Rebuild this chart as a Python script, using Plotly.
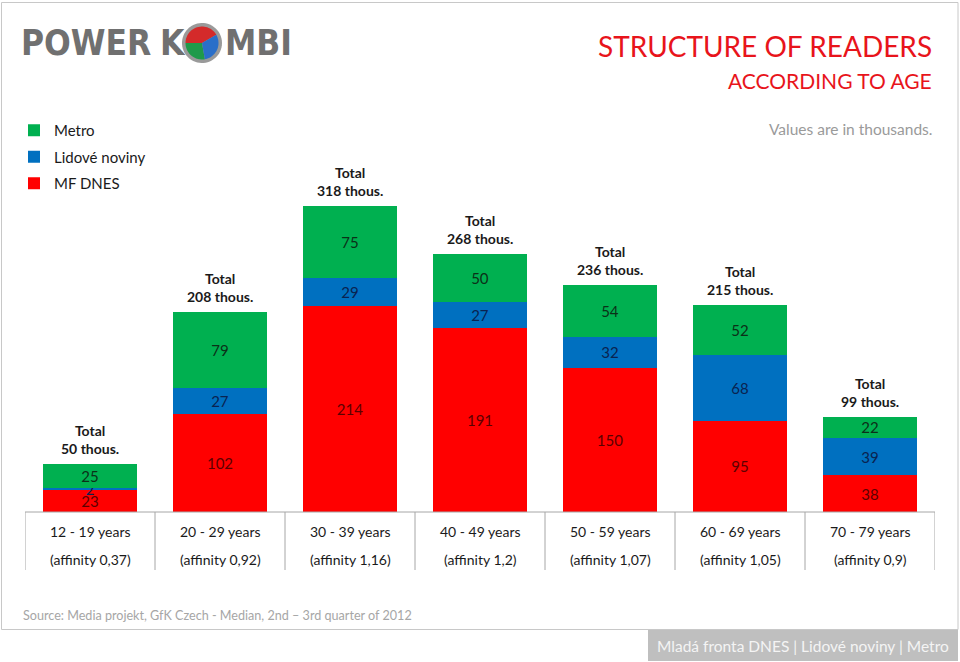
import numpy as np
import plotly.graph_objects as go

categories = ["12 - 19 years", "20 - 29 years", "30 - 39 years", "40 - 49 years",
              "50 - 59 years", "60 - 69 years", "70 - 79 years"]
affinity = ["(affinity 0,37)", "(affinity 0,92)", "(affinity 1,16)", "(affinity 1,2)",
            "(affinity 1,07)", "(affinity 1,05)", "(affinity 0,9)"]
mf_dnes = [23, 102, 214, 191, 150, 95, 38]
lidove = [2, 27, 29, 27, 32, 68, 39]
metro = [25, 79, 75, 50, 54, 52, 22]
totals = [50, 208, 318, 268, 236, 215, 99]

FONT = "Lato, 'Open Sans', Arial, sans-serif"
LOGO_FONT = "'DejaVu Sans Condensed', 'DejaVu Sans', sans-serif"
W, H = 960, 662
ML, MR, MT, MB = 25, 25, 100, 150
PW, PH = W - ML - MR, H - MT - MB
SCALE = 0.962  # px per thousand
YMAX = PH / SCALE


def px(X):
    return (X - ML) / PW


def py(Y):
    return (H - MB - Y) / PH


x = list(range(len(categories)))
fig = go.Figure()
series = [("MF DNES", mf_dnes, "#FF0000", "#5c0000", 3),
          ("Lidové noviny", lidove, "#0070C0", "#0a2350", 2),
          ("Metro", metro, "#00B050", "#0b3018", 1)]
for name, vals, col, tcol, rank in series:
    fig.add_trace(go.Bar(
        x=x, y=vals, name=name, marker=dict(color=col, line=dict(width=0)),
        text=[str(v) for v in vals], textposition="inside", insidetextanchor="middle",
        textangle=0, constraintext="none",
        textfont=dict(family=FONT, size=15, color=tcol), legendgroup=name,
        legendrank=rank, hoverinfo="skip"))

annotations = []
for i, t in enumerate(totals):
    annotations.append(dict(x=i, y=t, xref="x", yref="y", text=f"<b>Total<br>{t} thous.</b>",
                            showarrow=False, yanchor="bottom", yshift=5,
                            font=dict(family=FONT, size=14, color="#1a1a1a")))
    annotations.append(dict(x=i, y=py(531), xref="x", yref="paper", text=categories[i],
                            showarrow=False, yanchor="middle",
                            font=dict(family=FONT, size=14, color="#1a1a1a")))
    annotations.append(dict(x=i, y=py(559), xref="x", yref="paper", text=affinity[i],
                            showarrow=False, yanchor="middle",
                            font=dict(family=FONT, size=14, color="#1a1a1a")))

# titles and notes
annotations += [
    dict(x=px(934), y=py(46), xref="paper", yref="paper", xanchor="right", yanchor="middle",
         text="STRUCTURE OF READERS", showarrow=False,
         font=dict(family=FONT, size=28, color="#E8141B")),
    dict(x=px(934), y=py(80), xref="paper", yref="paper", xanchor="right", yanchor="middle",
         text="ACCORDING TO AGE", showarrow=False,
         font=dict(family=FONT, size=21, color="#E8141B")),
    dict(x=px(935), y=py(129), xref="paper", yref="paper", xanchor="right", yanchor="middle",
         text="Values are in thousands.", showarrow=False,
         font=dict(family=FONT, size=15.5, color="#9a9a9a")),
    dict(x=px(21), y=py(615), xref="paper", yref="paper", xanchor="left", yanchor="middle",
         text="Source: Media projekt, GfK Czech - Median, 2nd – 3rd quarter of 2012", showarrow=False,
         font=dict(family=FONT, size=12.6, color="#a6a6a6")),
    dict(x=px(803), y=py(645.5), xref="paper", yref="paper", xanchor="center", yanchor="middle",
         text="Mladá fronta DNES | Lidové noviny | Metro", showarrow=False,
         font=dict(family=FONT, size=15.5, color="#f4f4f4")),
    dict(x=px(19), y=py(43), xref="paper", yref="paper", xanchor="left", yanchor="middle",
         text="<b>POWER</b>", showarrow=False,
         font=dict(family=LOGO_FONT, size=35, color="#707070")),
    dict(x=px(158), y=py(43), xref="paper", yref="paper", xanchor="left", yanchor="middle",
         text="<b>K</b>", showarrow=False,
         font=dict(family=LOGO_FONT, size=35, color="#707070")),
    dict(x=px(223), y=py(43), xref="paper", yref="paper", xanchor="left", yanchor="middle",
         text="<b>MBI</b>", showarrow=False,
         font=dict(family=LOGO_FONT, size=35, color="#707070")),
]

shapes = []
# category table lines
line_col = "#a6a6a6"
shapes.append(dict(type="line", xref="x", yref="paper", x0=-0.5, x1=len(categories) - 0.5,
                   y0=0, y1=0, line=dict(color=line_col, width=1)))
for b in range(len(categories) + 1):
    shapes.append(dict(type="line", xref="x", yref="paper", x0=b - 0.5, x1=b - 0.5,
                       y0=py(512), y1=py(570), line=dict(color=line_col, width=1)))
# outer frame
shapes.append(dict(type="rect", xref="paper", yref="paper", x0=px(1.5), x1=px(958),
                   y0=py(629.5), y1=py(2.5), line=dict(color="#c8c8c8", width=1), layer="below"))
# footer box
shapes.append(dict(type="rect", xref="paper", yref="paper", x0=px(648), x1=px(958),
                   y0=py(661), y1=py(630), line=dict(width=0), fillcolor="#bfbfbf", layer="below"))

# logo sphere
cx, cy = 202, 43


def circle_path(r):
    t = np.linspace(0, 2 * np.pi, 60)
    pts = [(px(cx + r * np.cos(a)), py(cy - r * np.sin(a))) for a in t]
    return "M " + " L ".join(f"{a:.5f},{b:.5f}" for a, b in pts) + " Z"


def sector_path(r, a0, a1):
    t = np.radians(np.linspace(a0, a1, 30))
    pts = [(px(cx), py(cy))] + [(px(cx + r * np.cos(a)), py(cy - r * np.sin(a))) for a in t]
    return "M " + " L ".join(f"{a:.5f},{b:.5f}" for a, b in pts) + " Z"


shapes.append(dict(type="path", xref="paper", yref="paper", path=circle_path(20),
                   fillcolor="#9a9a9a", line=dict(width=0)))
for a0, a1, col in [(30, 180, "#d42a2a"), (180, 280, "#1f9a4a"), (280, 390, "#2a6fc9")]:
    shapes.append(dict(type="path", xref="paper", yref="paper", path=sector_path(16.5, a0, a1),
                       fillcolor=col, line=dict(width=0)))

fig.update_layout(
    width=W, height=H,
    margin=dict(l=ML, r=MR, t=MT, b=MB),
    barmode="stack", bargap=0.28,
    plot_bgcolor="white", paper_bgcolor="white",
    xaxis=dict(visible=False, range=[-0.5, len(categories) - 0.5]),
    yaxis=dict(visible=False, range=[0, YMAX]),
    uniformtext=dict(minsize=15, mode="show"),
    showlegend=True,
    legend=dict(x=px(14), y=py(114), xanchor="left", yanchor="top",
                traceorder="grouped", tracegroupgap=4,
                font=dict(family=FONT, size=15, color="#1a1a1a"),
                bgcolor="rgba(0,0,0,0)", itemwidth=30),
    annotations=annotations, shapes=shapes,
)

fig.write_html("out.html", config={"displayModeBar": False},
               post_script="document.body.style.margin='0';")
